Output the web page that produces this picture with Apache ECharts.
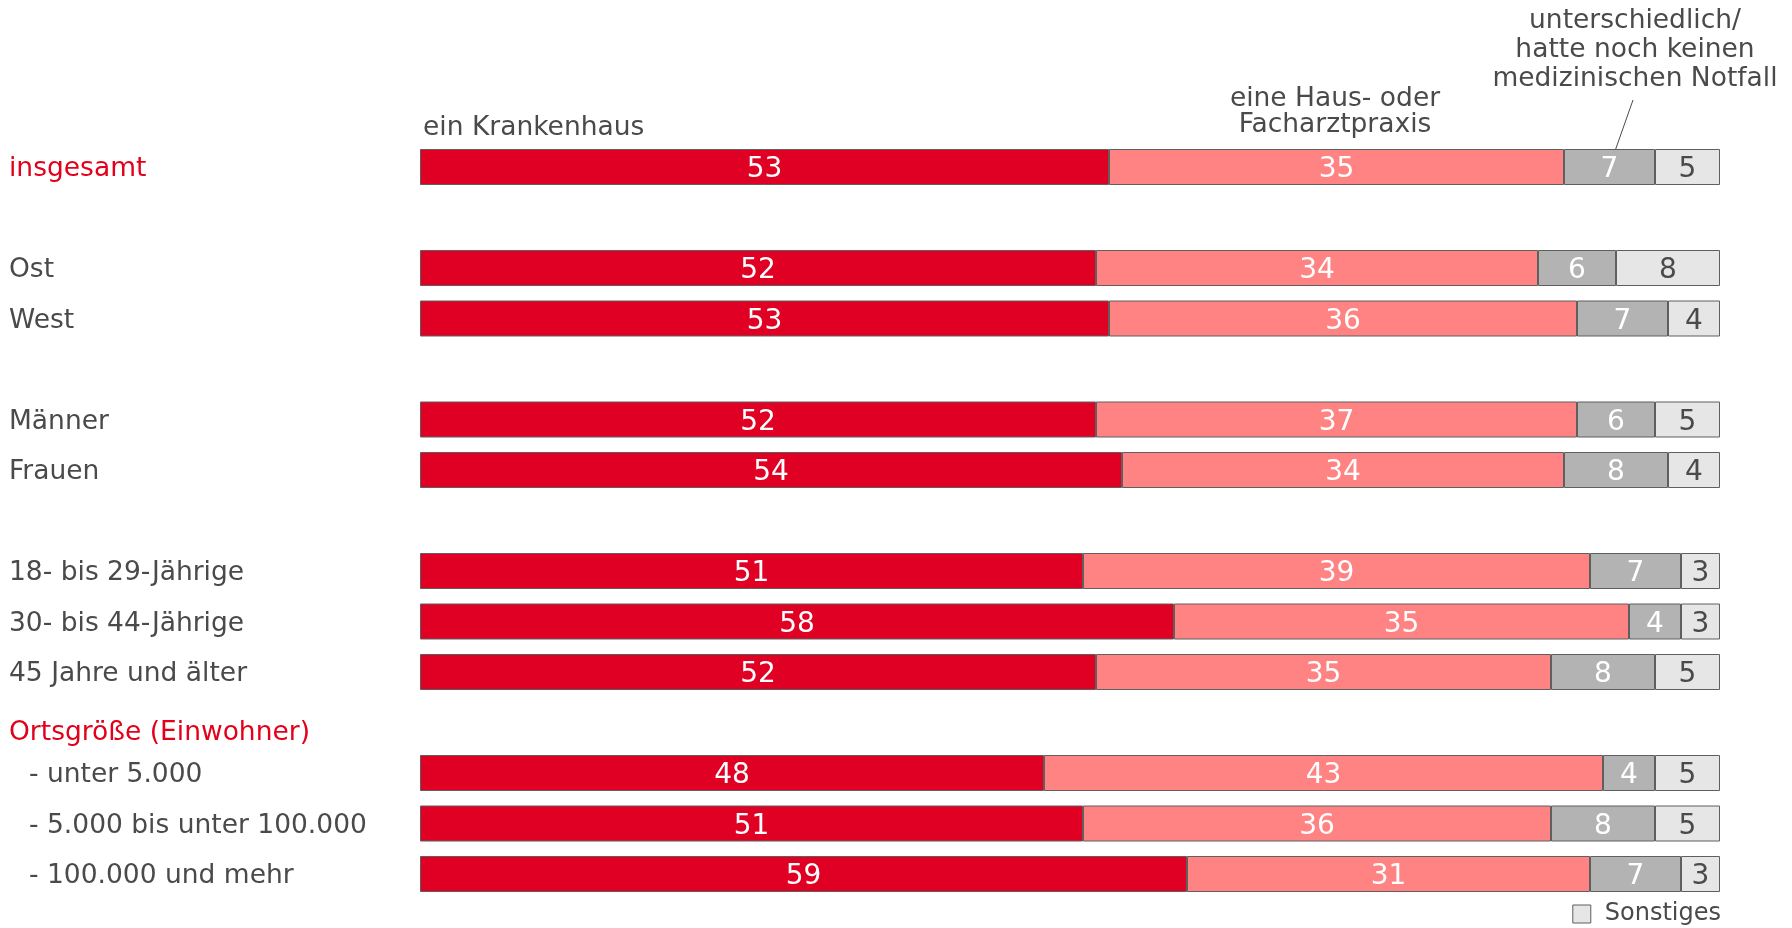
<!DOCTYPE html>
<html><head><meta charset="utf-8">
<script src="https://cdn.jsdelivr.net/npm/echarts@6/dist/echarts.min.js"></script>
<style>html,body{margin:0;padding:0;background:#fff}#c{width:1792px;height:928px}</style>
</head><body><div id="c"></div>
<script>
const categories = ['insgesamt', 'gap1', 'Ost', 'West', 'gap2', 'Männer', 'Frauen', 'gap3',
  '18- bis 29-Jährige', '30- bis 44-Jährige', '45 Jahre und älter', 'Ortsgröße (Einwohner)',
  '- unter 5.000', '- 5.000 bis unter 100.000', '- 100.000 und mehr'];
const krankenhaus = [53, null, 52, 53, null, 52, 54, null, 51, 58, 52, null, 48, 51, 59];
const praxis      = [35, null, 34, 36, null, 37, 34, null, 39, 35, 35, null, 43, 36, 31];
const unterschiedlich = [7, null, 6, 7, null, 6, 8, null, 7, 4, 8, null, 4, 8, 7];
const sonstiges   = [5, null, 8, 4, null, 5, 4, null, 3, 3, 5, null, 5, 5, 3];
const seriesNames = ['ein Krankenhaus', 'eine Haus- oder Facharztpraxis', 'unterschiedlich/hatte noch keinen medizinischen Notfall', 'Sonstiges'];

const indented = ['- unter 5.000', '- 5.000 bis unter 100.000', '- 100.000 und mehr'];
const FONT = 'DejaVu Sans';

const chart = echarts.init(document.getElementById('c'), null, {renderer: 'canvas'});
function mk(name, data, color, labelColor) {
  return {
    name, type: 'bar', stack: 'a', data, barWidth: 36,
    itemStyle: {color, borderColor: '#5f5f5f', borderWidth: 1},
    label: {show: true, position: 'inside', offset: [0, 3], color: labelColor, fontFamily: FONT, fontSize: 28},
    emphasis: {disabled: true}, animation: false
  };
}
chart.setOption({
  animation: false,
  grid: {left: 420, right: 72, top: 141.75, bottom: 28.75, containLabel: false},
  xAxis: {type: 'value', min: 0, max: 100, show: false},
  yAxis: {
    type: 'category', data: categories, inverse: true,
    axisLine: {show: false}, axisTick: {show: false},
    axisLabel: {
      align: 'left', margin: 411, fontFamily: FONT, fontSize: 26.5, color: '#4a4a4a',
      formatter: function (v) {
        if (v.indexOf('gap') === 0) return '';
        if (v === 'Ortsgröße (Einwohner)') return '{hdr|' + v + '}';
        if (v === 'insgesamt') return '{red|' + v + '}';
        if (indented.indexOf(v) >= 0) return '{ind|' + v + '}';
        return '{n|' + v + '}';
      },
      rich: {
        n: {color: '#4a4a4a', fontFamily: FONT, fontSize: 26.5, padding: [5, 0, 0, 0]},
        red: {color: '#e2001a', fontFamily: FONT, fontSize: 26.5, padding: [5, 0, 0, 0]},
        hdr: {color: '#e2001a', fontFamily: FONT, fontSize: 26.5, padding: [22, 0, 0, 0]},
        ind: {color: '#4a4a4a', fontFamily: FONT, fontSize: 26.5, padding: [5, 0, 0, 20]}
      }
    }
  },
  legend: {
    data: ['Sonstiges'], right: 66, top: 897, itemWidth: 18, itemHeight: 18,
    icon: 'rect',
    itemStyle: {borderColor: '#5f5f5f', borderWidth: 1},
    textStyle: {fontFamily: FONT, fontSize: 24, color: '#4a4a4a', padding: [0, 0, 0, 9]}
  },
  series: [
    mk(seriesNames[0], krankenhaus, '#df0024', '#ffffff'),
    mk(seriesNames[1], praxis, '#ff8383', '#ffffff'),
    mk(seriesNames[2], unterschiedlich, '#b3b3b3', '#ffffff'),
    mk(seriesNames[3], sonstiges, '#e6e6e6', '#4a4a4a')
  ],
  graphic: [
    {type: 'text', left: 423, top: 115, style: {text: 'ein Krankenhaus', font: '26.5px "DejaVu Sans"', fill: '#4a4a4a'}},
    {type: 'text', x: 1335, y: 86, style: {text: 'eine Haus- oder\nFacharztpraxis', font: '26.5px "DejaVu Sans"', fill: '#4a4a4a', align: 'center', lineHeight: 26}},
    {type: 'text', x: 1635, y: 7, style: {text: 'unterschiedlich/\nhatte noch keinen\nmedizinischen Notfall', font: '26.5px "DejaVu Sans"', fill: '#4a4a4a', align: 'center', lineHeight: 29}},
    {type: 'line', shape: {x1: 1633, y1: 100, x2: 1615, y2: 151}, style: {stroke: '#4a4a4a', lineWidth: 1}}
  ]
});
</script></body></html>
